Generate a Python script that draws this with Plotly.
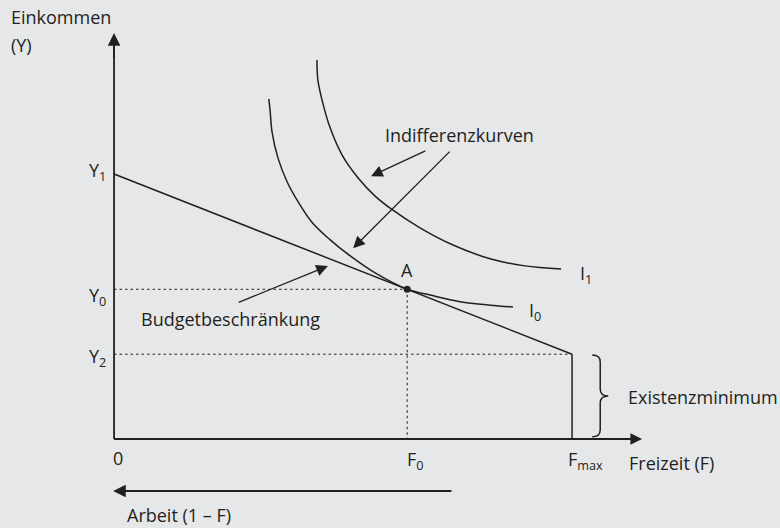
import plotly.graph_objects as go

# ---------------- data ----------------
F_MAX = 10.0      # maximum leisure
Y1 = 6.0          # income at zero leisure
Y2 = 1.92         # subsistence income
F0 = 6.40         # optimal leisure
Y0 = 3.39         # optimal income

budget_x = [0.0, F_MAX]
budget_y = [Y1, Y2]

i0_x = [3.38, 3.41, 3.45, 3.58, 3.78, 4.02, 4.32, 4.72, 5.15, 5.70, 6.40, 6.90, 7.55, 8.21, 8.71]
i0_y = [7.70, 7.40, 6.95, 6.36, 5.82, 5.37, 4.91, 4.51, 4.15, 3.76, 3.39, 3.26, 3.11, 3.03, 2.99]

i1_x = [4.43, 4.45, 4.54, 4.72, 4.98, 5.33, 5.70, 6.09, 6.68, 7.34, 8.21, 8.97, 9.76]
i1_y = [8.58, 8.13, 7.68, 7.04, 6.43, 5.91, 5.50, 5.18, 4.78, 4.42, 4.08, 3.92, 3.85]

x_tick_labels = ["0", "F<sub>0</sub>", "F<sub>max</sub>"]
y_tick_labels = ["Y<sub>1</sub>", "Y<sub>0</sub>", "Y<sub>2</sub>"]

# ---------------- style ----------------
BG = "#e6e7e9"
INK = "#231f20"
FONT = dict(family="Open Sans", size=18, color=INK)

X_TIP = 11.53
Y_TIP = 9.19
ARBEIT_Y = -1.177
ARBEIT_START = 7.4

fig = go.Figure()

def line(xs, ys, width=1.5, dash=None, shape="linear"):
    fig.add_trace(go.Scatter(x=xs, y=ys, mode="lines", hoverinfo="skip",
                             line=dict(color=INK, width=width, dash=dash, shape=shape)))

# axes
line([0, 0], [0, Y_TIP - 0.15], width=1.8)
line([0, X_TIP - 0.15], [0, 0], width=1.8)

# dotted guides
DOT = "2.5px,3px"
line([0, F0], [Y0, Y0], width=1, dash=DOT)
line([F0, F0], [Y0, 0], width=1, dash=DOT)
line([0, F_MAX], [Y2, Y2], width=1, dash=DOT)

# budget constraint and subsistence vertical
line(budget_x, budget_y, width=1.5)
line([F_MAX, F_MAX], [Y2, 0], width=1.5)

# indifference curves
line(i0_x, i0_y, width=1.5, shape="spline")
line(i1_x, i1_y, width=1.5, shape="spline")

# point A
fig.add_trace(go.Scatter(x=[F0], y=[Y0], mode="markers", hoverinfo="skip",
                         marker=dict(color=INK, size=7)))

# ---------------- arrows ----------------
def arrow(tail, tip, width=1.5, size=1.6):
    fig.add_annotation(x=tip[0], y=tip[1], ax=tail[0], ay=tail[1],
                       xref="x", yref="y", axref="x", ayref="y",
                       text="", showarrow=True, arrowhead=2,
                       arrowwidth=width, arrowsize=size, arrowcolor=INK)

arrow((0, Y_TIP - 0.6), (0, Y_TIP), width=1.8, size=1.4)
arrow((X_TIP - 0.6, 0), (X_TIP, 0), width=1.8, size=1.3)
arrow((ARBEIT_START, ARBEIT_Y), (-0.02, ARBEIT_Y), width=1.8, size=1.4)

arrow((6.83, 6.54), (5.61, 5.95), width=1.3, size=1.8)
arrow((7.36, 6.54), (5.22, 4.32), width=1.3, size=1.8)
arrow((2.69, 3.08), (4.67, 3.92), width=1.3, size=1.8)

# ---------------- brace (Existenzminimum) ----------------
bx0 = 10.44
bw = 0.35
bx1 = bx0 + bw / 2
bx2 = bx0 + bw
yt = Y2 - 0.02
yb = 0.05
ym = (yt + yb) / 2
c = 0.16
brace = (f"M {bx0},{yt} C {bx1 - 0.06},{yt} {bx1},{yt - 0.04} {bx1},{yt - c} "
         f"L {bx1},{ym + c} C {bx1},{ym + 0.04} {bx1 + 0.06},{ym} {bx2},{ym} "
         f"C {bx1 + 0.06},{ym} {bx1},{ym - 0.04} {bx1},{ym - c} "
         f"L {bx1},{yb + c} C {bx1},{yb + 0.04} {bx1 - 0.06},{yb} {bx0},{yb}")
fig.add_shape(type="path", path=brace, xref="x", yref="y",
              line=dict(color=INK, width=1.5))

# ---------------- labels ----------------
def label(txt, x, y, xanchor="left", yshift=0):
    fig.add_annotation(x=x, y=y, xref="x", yref="y", text=txt, showarrow=False,
                       xanchor=xanchor, yanchor="middle", font=FONT, yshift=yshift)

label("Einkommen", -2.29, 9.55)
label("(Y)", -2.29, 8.92)

label(y_tick_labels[0], -0.13, Y1 + 0.11, xanchor="right", yshift=-2)
label(y_tick_labels[1], -0.13, Y0 - 0.11, xanchor="right", yshift=-2)
label(y_tick_labels[2], -0.13, Y2 - 0.02, xanchor="right", yshift=-2)

label(x_tick_labels[0], 0.08, -0.43, xanchor="center")
label(x_tick_labels[1], F0 - 0.05, -0.43, xanchor="left", yshift=-2)
label(x_tick_labels[2], F_MAX - 0.13, -0.43, xanchor="left", yshift=-2)

label("Freizeit (F)", 11.2, -0.54)
label("Arbeit (1 – F)", 0.24, -1.72)
label("Existenzminimum", 11.17, 0.95)
label("Indifferenzkurven", 5.87, 6.88)
label("Budgetbeschränkung", 0.55, 2.72)
label("A", F0, 3.83, xanchor="center")
label("I<sub>1</sub>", 10.13, 3.78, yshift=-2)
label("I<sub>0</sub>", 9.02, 2.94, yshift=-2)

fig.update_layout(
    width=780, height=528,
    margin=dict(l=0, r=0, t=0, b=0),
    paper_bgcolor=BG, plot_bgcolor=BG,
    showlegend=False,
    xaxis=dict(range=[-2.49, 14.54], visible=False, fixedrange=True),
    yaxis=dict(range=[-2.015, 9.94], visible=False, fixedrange=True),
)

fig.write_html("out.html",
               config={"displayModeBar": False, "staticPlot": True},
               post_script="document.body.style.margin='0';document.body.style.background='" + BG + "';")
